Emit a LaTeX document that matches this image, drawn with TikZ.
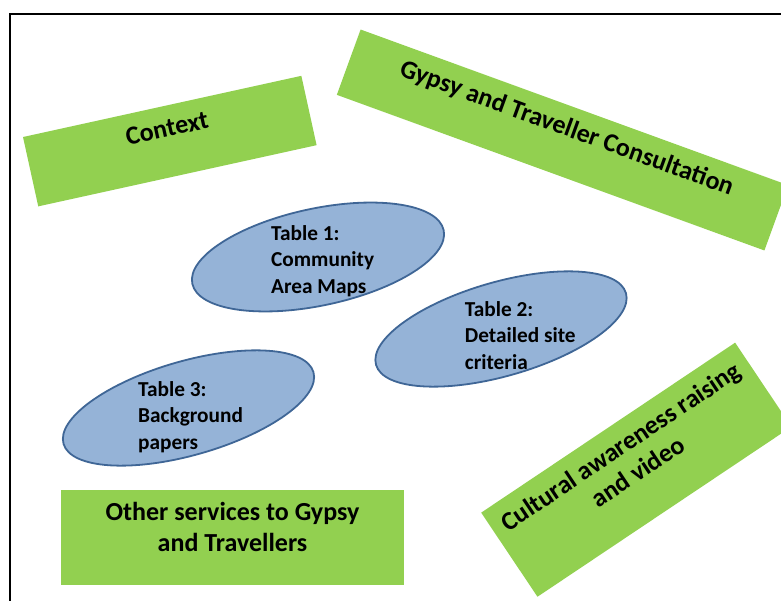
\documentclass[tikz,border=0pt]{standalone}
\usepackage{fontspec}
\setmainfont{Carlito}
\usetikzlibrary{shapes.geometric}
\definecolor{grn}{HTML}{92D050}
\definecolor{ellfill}{HTML}{95B3D7}
\definecolor{elldraw}{HTML}{3F6696}
\begin{document}
\begin{tikzpicture}[x=1pt,y=1pt,
  greenbox/.style={draw=none, fill=grn, inner sep=0pt, outer sep=0pt},
  boxtext/.style={font=\bfseries\fontsize{26}{30.7}\selectfont, align=center, inner sep=0pt},
  tableell/.style={ellipse, draw=elldraw, line width=1.8pt, fill=ellfill, inner sep=0pt},
  tabletext/.style={font=\bfseries\fontsize{21.3}{26.2}\selectfont, anchor=base west, inner sep=0pt}]
\useasboundingbox (0,0) rectangle (781,-601);
\clip (0,0) rectangle (781,-601);
\fill[white] (0,0) rectangle (781,-601);
% frame
\coordinate (fbl) at (9.5,-620);
\coordinate (ftl) at (9.5,-14.3);
\coordinate (ftr) at (800,-14.3);
\draw[line width=2pt] (fbl) -- (ftl) -- (ftr);
% Context
\begin{scope}[shift={(169.8,-141.1)}, rotate=12.4, transform shape]
  \node[greenbox, minimum width=285pt, minimum height=71pt] (ctx) at (0,0) {};
  \node[boxtext] (ctxt) at (0,13) {Context};
\end{scope}
% Gypsy and Traveller Consultation
\begin{scope}[shift={(562.5,-140)}, rotate=-20, transform shape]
  \node[greenbox, minimum width=455pt, minimum height=69.5pt] (gtc) at (0,0) {};
  \node[boxtext] (gtct) at (0,12) {Gypsy and Traveller Consultation};
\end{scope}
% Cultural awareness
\begin{scope}[shift={(636.3,-469.7)}, rotate=33.8, transform shape]
  \node[greenbox, minimum width=305.6pt, minimum height=101.2pt] (cul) at (0,0) {};
  \node[boxtext] (cult) at (0,13) {Cultural awareness raising\\and video};
\end{scope}
% Other services
\node[greenbox, minimum width=343pt, minimum height=95pt] (oth) at (232.5,-537.5) {};
\node[boxtext] (otht) at (232.5,-527) {Other services to Gypsy\\and Travellers};
% ellipses
\node[tableell, rotate=12, minimum width=257pt, minimum height=97pt] (t1) at (318,-257) {};
\node[tableell, rotate=16, minimum width=260pt, minimum height=94pt] (t2) at (501,-329) {};
\node[tableell, rotate=16, minimum width=260pt, minimum height=94pt] (t3) at (188.5,-408) {};
\node[tabletext] (t1t) at (271,-240.7) {\begin{tabular}[t]{@{}l@{}}Table 1:\\Community\\Area Maps\end{tabular}};
\node[tabletext] (t2t) at (464.7,-316.7) {\begin{tabular}[t]{@{}l@{}}Table 2:\\Detailed site\\criteria\end{tabular}};
\node[tabletext] (t3t) at (138,-396.7) {\begin{tabular}[t]{@{}l@{}}Table 3:\\Background\\papers\end{tabular}};
\end{tikzpicture}
\end{document}
